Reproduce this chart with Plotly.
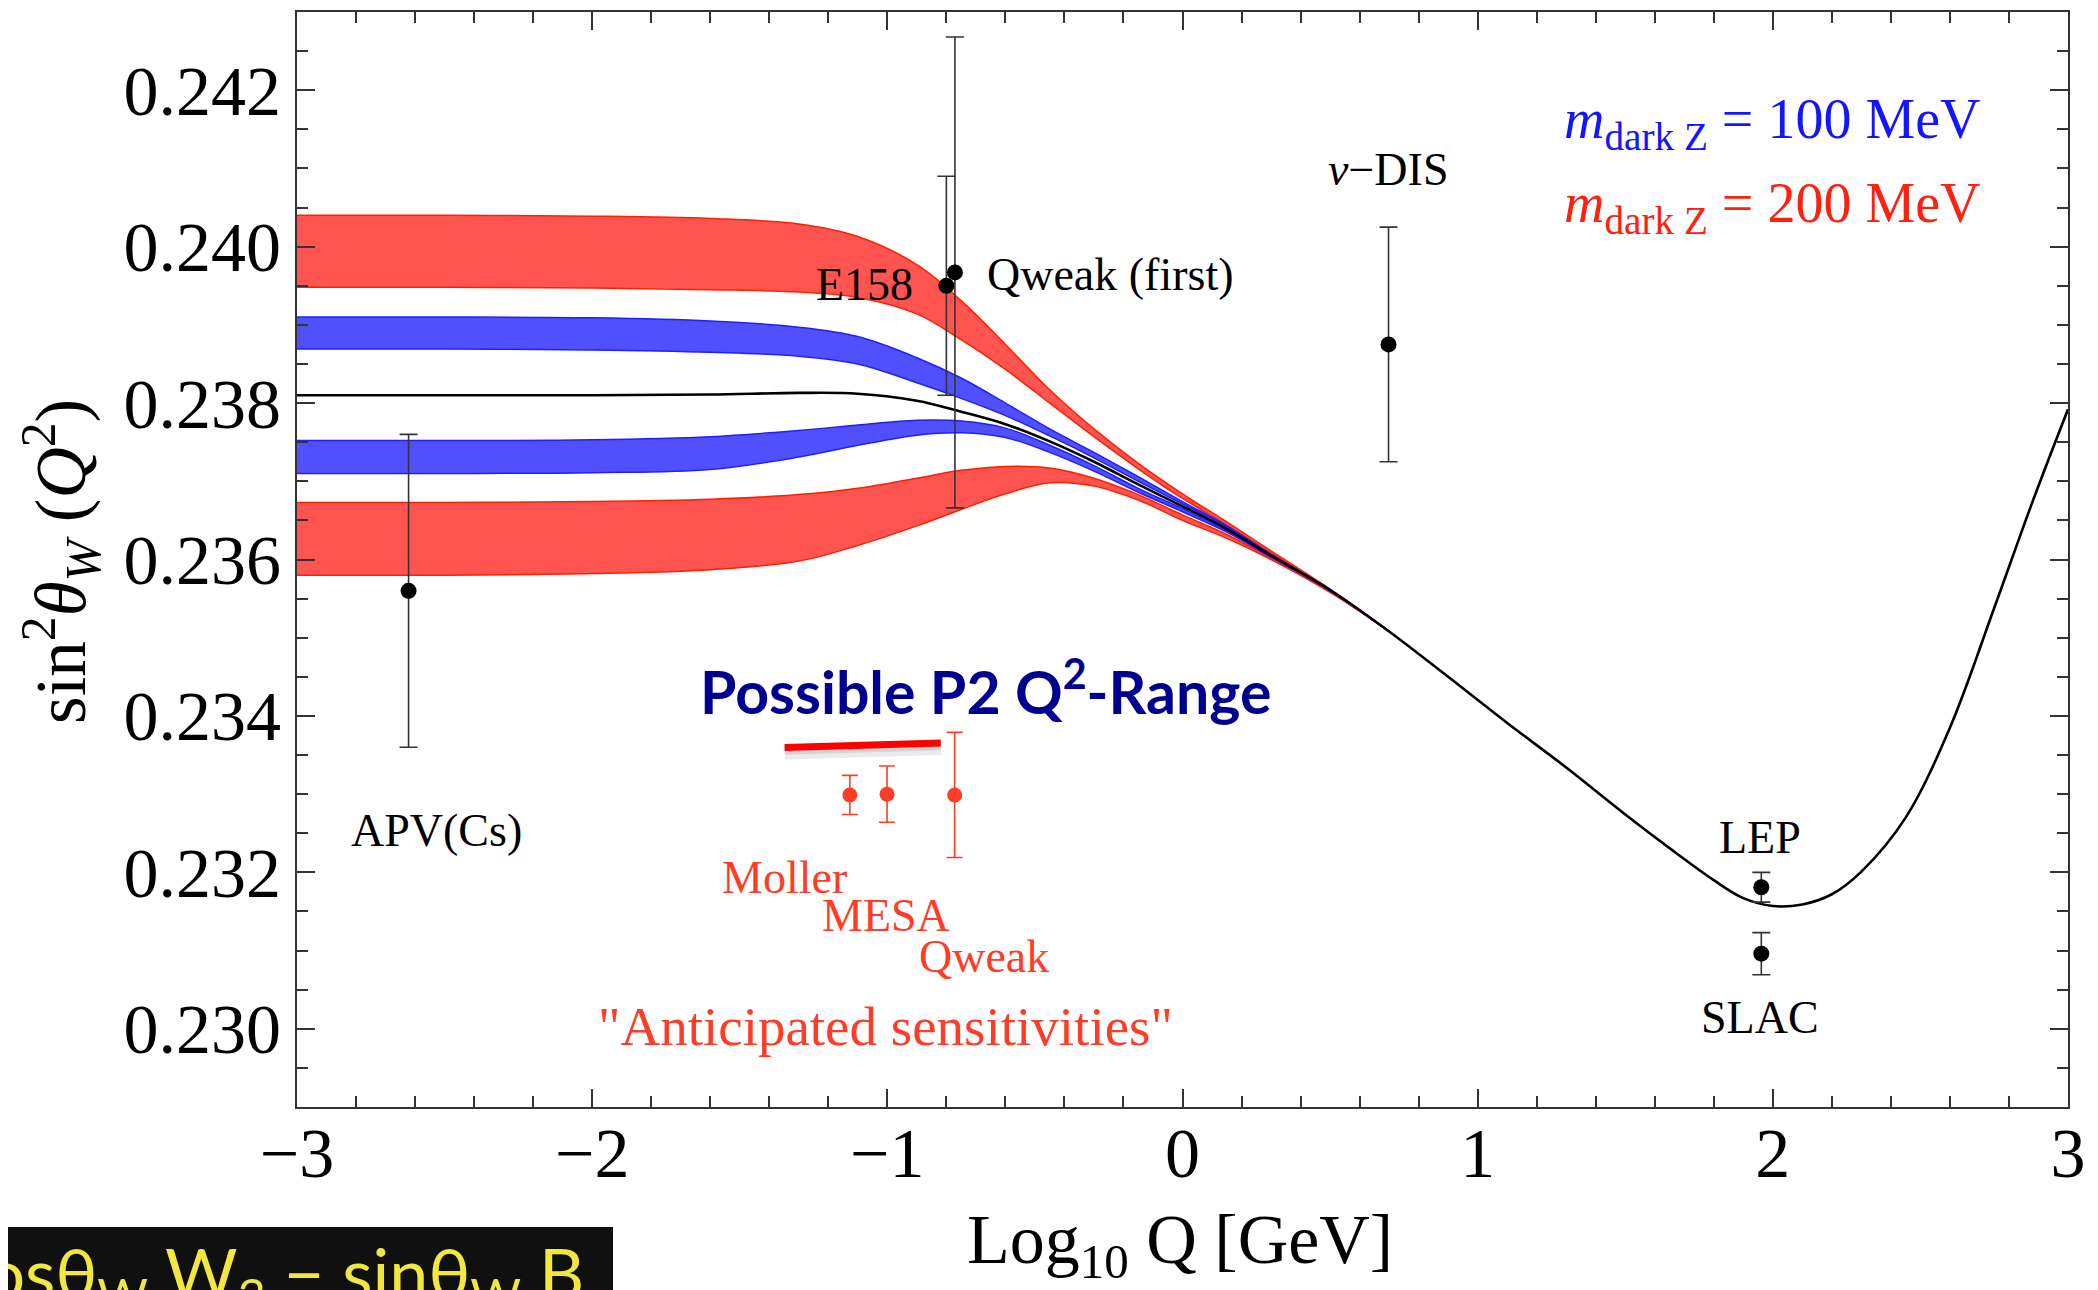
import plotly.graph_objects as go

# ---------------- data ----------------
# x = log10 Q [GeV]
band_x = [-3.0, -2.5, -2.0, -1.6, -1.3, -1.1, -0.9, -0.75, -0.6, -0.45, -0.3, -0.15, 0.0, 0.15, 0.3, 0.5, 0.7]

red_upper_top = [0.24040, 0.24040, 0.24039, 0.24036, 0.24029, 0.24013, 0.23977, 0.23931, 0.23875, 0.23817, 0.23767, 0.23723, 0.23684, 0.23648, 0.23611, 0.23562, 0.23508]
red_upper_bot = [0.23948, 0.23948, 0.23947, 0.23945, 0.23942, 0.23935, 0.23914, 0.23881, 0.23843, 0.23800, 0.23757, 0.23716, 0.23678, 0.23644, 0.23608, 0.23561, 0.23508]
blue_upper_top = [0.23910, 0.23910, 0.23909, 0.23905, 0.23897, 0.23885, 0.23858, 0.23832, 0.23800, 0.23767, 0.23737, 0.23706, 0.23674, 0.23643, 0.23607, 0.23561, 0.23508]
blue_upper_bot = [0.23869, 0.23869, 0.23868, 0.23865, 0.23860, 0.23850, 0.23826, 0.23806, 0.23784, 0.23758, 0.23730, 0.23700, 0.23671, 0.23641, 0.23606, 0.23561, 0.23508]
blue_lower_top = [0.23752, 0.23752, 0.23753, 0.23757, 0.23765, 0.23772, 0.23778, 0.23777, 0.23768, 0.23746, 0.23720, 0.23691, 0.23665, 0.23637, 0.23604, 0.23560, 0.23508]
blue_lower_bot = [0.23710, 0.23710, 0.23711, 0.23715, 0.23731, 0.23746, 0.23759, 0.23762, 0.23756, 0.23737, 0.23713, 0.23686, 0.23661, 0.23635, 0.23603, 0.23560, 0.23508]
red_lower_top = [0.23673, 0.23673, 0.23674, 0.23677, 0.23683, 0.23691, 0.23704, 0.23714, 0.23719, 0.23717, 0.23704, 0.23683, 0.23657, 0.23632, 0.23602, 0.23559, 0.23508]
red_lower_bot = [0.23580, 0.23580, 0.23582, 0.23587, 0.23598, 0.23618, 0.23643, 0.23664, 0.23684, 0.23698, 0.23694, 0.23676, 0.23650, 0.23627, 0.23600, 0.23558, 0.23508]

sm_x = [-3.0, -2.5, -2.0, -1.6, -1.3, -1.1, -0.9, -0.75, -0.6, -0.45, -0.3, -0.15, 0.0, 0.15, 0.3, 0.5, 0.7,
        0.9, 1.1, 1.3, 1.5, 1.65, 1.8, 1.9, 2.0, 2.1, 2.2, 2.3, 2.45, 2.6, 2.75, 2.88, 3.0]
sm_y = [0.23810, 0.23810, 0.23810, 0.23811, 0.23813, 0.23812, 0.23803, 0.23789, 0.23773, 0.23751, 0.23725, 0.23696, 0.23668, 0.23639, 0.23605, 0.23561, 0.23508,
        0.23450, 0.23391, 0.23334, 0.23274, 0.23231, 0.23190, 0.23167, 0.23157, 0.23159, 0.23172, 0.23201, 0.23270, 0.23385, 0.23538, 0.23674, 0.23792]

meas_names = ["APV(Cs)", "E158", "Qweak (first)", "ν-DIS", "LEP", "SLAC"]
meas_x = [-2.622, -0.800, -0.771, 0.698, 1.961, 1.961]
meas_y = [0.23560, 0.23950, 0.23967, 0.23875, 0.23181, 0.23096]
meas_err = [0.00200, 0.00140, 0.00301, 0.00150, 0.00019, 0.00027]

ant_names = ["Moller", "MESA", "Qweak"]
ant_x = [-1.127, -1.001, -0.772]
ant_y = [0.23299, 0.23300, 0.23299]
ant_err = [0.00025, 0.00036, 0.00080]

p2_x = [-1.348, -0.819]
p2_y = [0.233597, 0.233653]

y_ticks = [0.230, 0.232, 0.234, 0.236, 0.238, 0.240, 0.242]

# ---------------- styling ----------------
OFF = 8                      # default page (body) margin of the html page
W, H = 2098 - OFF, 1290 - OFF
ML, MR, MT, MB = 297 - OFF, 30, 12 - OFF, 183
PW, PH = W - ML - MR, H - MT - MB
SERIF = "Liberation Serif"
RED_FILL, RED_EDGE = "#ff5450", "#ff2000"
BLUE_FILL, BLUE_EDGE = "#5050ff", "#2020ff"
AXC = "#333333"
ANT_RED = "#ff3c28"

fig = go.Figure()

def add_band(top, bot, fill, edge):
    fig.add_trace(go.Scatter(x=band_x, y=bot, mode="lines", line=dict(color=edge, width=1.5, shape="spline", smoothing=1.0),
                             hoverinfo="skip", showlegend=False))
    fig.add_trace(go.Scatter(x=band_x, y=top, mode="lines", fill="tonexty", fillcolor=fill,
                             line=dict(color=edge, width=1.5, shape="spline", smoothing=1.0),
                             hoverinfo="skip", showlegend=False))

add_band(red_upper_top, red_upper_bot, RED_FILL, RED_EDGE)
add_band(red_lower_top, red_lower_bot, RED_FILL, RED_EDGE)
add_band(blue_upper_top, blue_upper_bot, BLUE_FILL, BLUE_EDGE)
add_band(blue_lower_top, blue_lower_bot, BLUE_FILL, BLUE_EDGE)

# SM running curve
fig.add_trace(go.Scatter(x=sm_x, y=sm_y, mode="lines", line=dict(color="black", width=2.6, shape="spline", smoothing=1.0),
                         hoverinfo="skip", showlegend=False))

# P2 range bar with a soft shadow
shadow_off = 0.00007
fig.add_trace(go.Scatter(x=p2_x, y=[v - shadow_off for v in p2_y], mode="lines",
                         line=dict(color="rgba(0,0,0,0.08)", width=13), hoverinfo="skip", showlegend=False))
fig.add_trace(go.Scatter(x=p2_x, y=[v - shadow_off * 0.6 for v in p2_y], mode="lines",
                         line=dict(color="rgba(0,0,0,0.10)", width=8), hoverinfo="skip", showlegend=False))
fig.add_trace(go.Scatter(x=p2_x, y=p2_y, mode="lines", line=dict(color="#ff0000", width=7),
                         hoverinfo="skip", showlegend=False))

# measurements
fig.add_trace(go.Scatter(x=meas_x, y=meas_y, mode="markers", marker=dict(color="black", size=16),
                         error_y=dict(type="data", array=meas_err, visible=True, color=AXC, thickness=1.6, width=9),
                         text=meas_names, hoverinfo="text", showlegend=False))
# anticipated sensitivities
fig.add_trace(go.Scatter(x=ant_x, y=ant_y, mode="markers", marker=dict(color=ANT_RED, size=15),
                         error_y=dict(type="data", array=ant_err, visible=True, color=ANT_RED, thickness=1.6, width=8),
                         text=ant_names, hoverinfo="text", showlegend=False))

def px2paper_x(px):          # page pixel -> paper
    return (px - OFF - ML) / PW

def px2paper_y(py):
    return (H - MB - (py - OFF)) / PH

ann = []
def label(x, y, text, size=45, color="black", family=SERIF, xanchor="center", **kw):
    ann.append(dict(x=x, y=y, xref="x", yref="y", text=text, showarrow=False, xanchor=xanchor, yanchor="middle",
                    font=dict(family=family, size=size, color=color), **kw))

label(-1.078, 0.23951, "E158", size=46)
label(-0.244, 0.23965, "Qweak (first)", size=46)
label(0.699, 0.24098, "<i>ν</i>−DIS", size=46)
label(-2.527, 0.23254, "APV(Cs)", size=46)
label(1.958, 0.23244, "LEP", size=46)
label(1.958, 0.23014, "SLAC", size=46)
label(-1.348, 0.23194, "Moller", size=46, color=ANT_RED)
label(-1.006, 0.23145, "MESA", size=46, color=ANT_RED)
label(-0.674, 0.23093, "Qweak", size=46, color=ANT_RED)
label(-1.006, 0.23003, "\"Anticipated sensitivities\"", size=55, color=ANT_RED)
label(-0.669, 0.23436, "<b>Possible P2 Q<sup>2</sup>-Range</b>", size=59, color="#000090", family="Lato")
label(1.286, 0.24158, "<i>m</i><sub>dark Z</sub> = 100 MeV", size=56, color="#1414ff", xanchor="left")
label(1.286, 0.24051, "<i>m</i><sub>dark Z</sub> = 200 MeV", size=56, color="#ff2010", xanchor="left")

# axis titles as annotations
ann.append(dict(x=px2paper_x(61), y=px2paper_y(561), xref="paper", yref="paper", showarrow=False, textangle=-90,
                text="sin<sup>2</sup><i>θ</i><sub><i>W</i></sub> (<i>Q</i><sup>2</sup>)",
                font=dict(family=SERIF, size=71, color="black"), xanchor="center", yanchor="middle"))
ann.append(dict(x=px2paper_x(1180), y=px2paper_y(1245), xref="paper", yref="paper", showarrow=False,
                text="Log<sub>10</sub> Q [GeV]",
                font=dict(family=SERIF, size=70, color="black"), xanchor="center", yanchor="middle"))

# slide fragment at bottom-left
ann.append(dict(x=px2paper_x(586), y=px2paper_y(1228), xref="paper", yref="paper", showarrow=False,
                text="Z = cosθ<sub>W</sub> W<sub>3</sub> − sinθ<sub>W</sub> B",
                font=dict(family="Lato", size=70, color="#f2e640"), xanchor="right", yanchor="top"))

shapes = [dict(type="rect", xref="paper", yref="paper", x0=px2paper_x(-5), x1=px2paper_x(613),
               y0=px2paper_y(1300), y1=px2paper_y(1227), fillcolor="#101010", line=dict(width=0), layer="below")]

axis_common = dict(showline=True, linecolor=AXC, linewidth=2, mirror="ticks", ticks="inside", ticklen=18,
                   tickwidth=1.8, tickcolor=AXC, showgrid=False, zeroline=False,
                   tickfont=dict(family=SERIF, size=70, color="black"))

fig.update_layout(
    width=W, height=H,
    margin=dict(l=ML, r=MR, t=MT, b=MB, autoexpand=False),
    paper_bgcolor="white", plot_bgcolor="white",
    showlegend=False,
    xaxis=dict(range=[-3, 3], tickmode="linear", tick0=-3, dtick=1, ticklabelstandoff=-16,
               minor=dict(dtick=0.2, tick0=-3, ticks="inside", ticklen=11, tickwidth=1.5, tickcolor=AXC),
               **axis_common),
    yaxis=dict(range=[0.229, 0.243], tickmode="array", tickvals=y_ticks,
               ticktext=["%.3f" % v for v in y_ticks],
               minor=dict(dtick=0.0005, tick0=0.229, ticks="inside", ticklen=11, tickwidth=1.5, tickcolor=AXC),
               **axis_common),
    annotations=ann,
    shapes=shapes,
)

fig.write_html("out.html")
